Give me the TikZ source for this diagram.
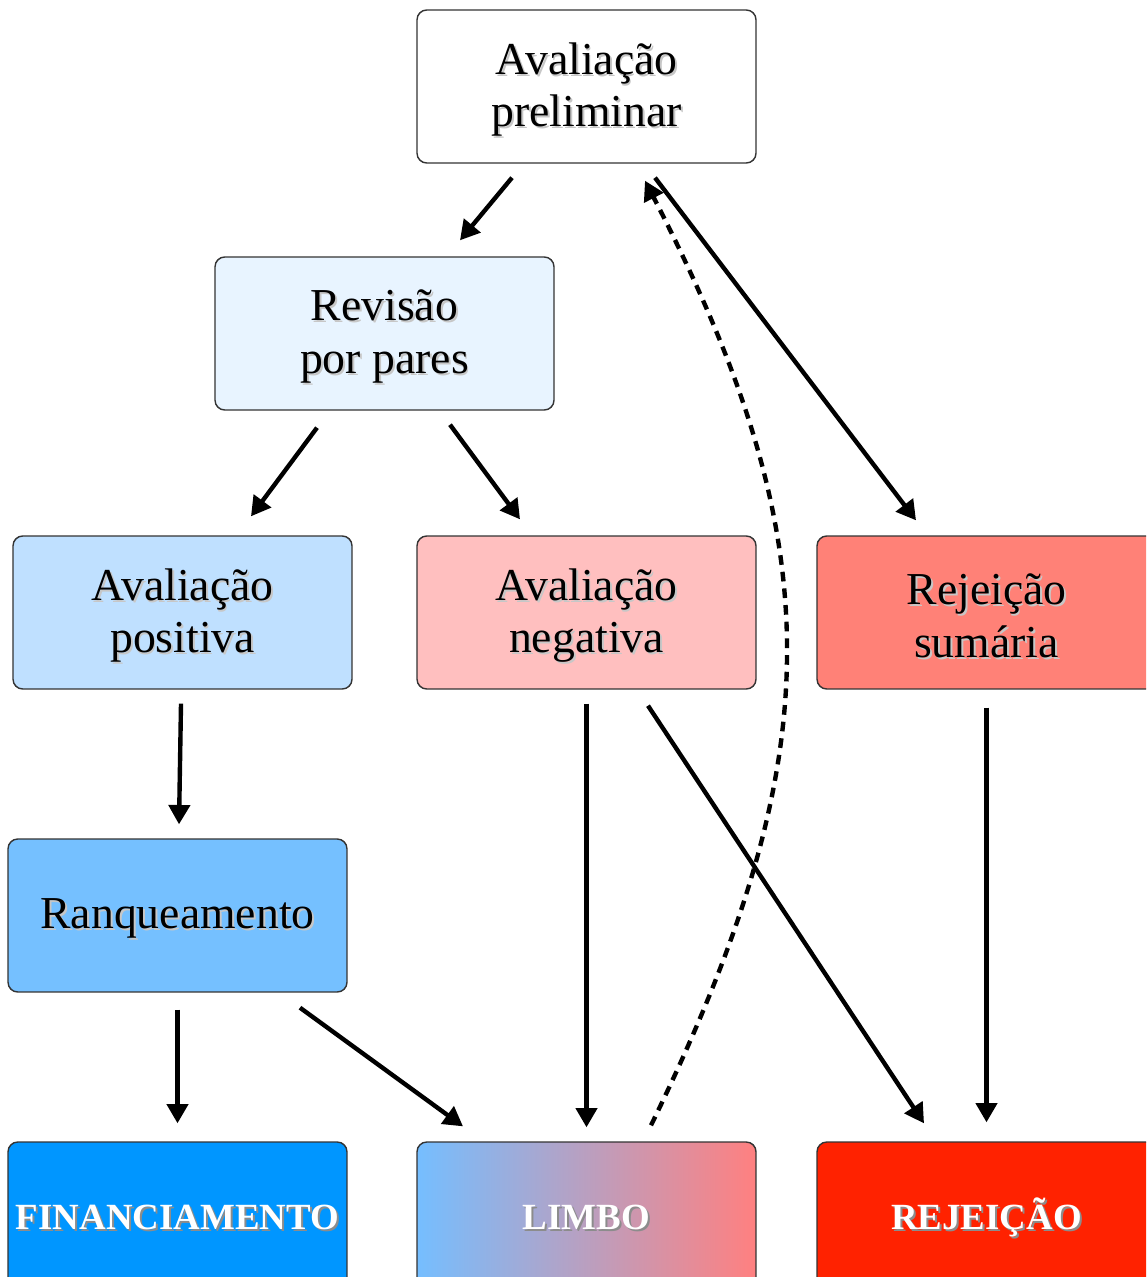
\documentclass[tikz,border=0pt]{standalone}
\usepackage{fontspec}
\setmainfont{Liberation Serif}
\usepackage{tikz}
\usetikzlibrary{arrows.meta,positioning,calc}
\definecolor{boxline}{HTML}{333333}
\definecolor{revfill}{HTML}{E8F4FF}
\definecolor{posfill}{HTML}{BFE0FF}
\definecolor{negfill}{HTML}{FFBFBF}
\definecolor{sumfill}{HTML}{FF8177}
\definecolor{rankfill}{HTML}{75C0FF}
\definecolor{fundfill}{HTML}{0096FF}
\definecolor{limboleft}{HTML}{75BEFF}
\definecolor{limboright}{HTML}{FF8080}
\definecolor{rejfill}{HTML}{FF2200}

% soft drop shadow behind a line of text
\newlength{\textdrop}
\setlength{\textdrop}{2.3pt}
\newcommand{\dropshade}[2][black!22]{%
  \raisebox{-\textdrop}[\height][\depth]{%
  \makebox[0pt][l]{\hspace{1.1pt}\raisebox{-1.1pt}{\textcolor{#1}{#2}}}#2}}

\tikzset{
  stagebox/.style={
    draw=boxline,
    line width=0.8pt,
    rounded corners=5.5pt,
    minimum width=6.78cm,
    minimum height=3.06cm,
    inner sep=0pt,
    align=center,
    font=\fontsize{26}{30}\selectfont
  },
  endbox/.style={
    stagebox,
    text=white,
    font=\fontsize{21}{24}\selectfont\bfseries\setlength{\textdrop}{0pt}
  },
  flow/.style={-{Triangle[length=11pt,width=12pt]}, line width=2.5pt},
  backflow/.style={flow, dash pattern=on 5.5pt off 4pt}
}

\begin{document}
\begin{tikzpicture}[x=0.02cm, y=-0.02cm]
  \useasboundingbox (0,0) rectangle (1146,1277);
  \clip (0,0) rectangle (1146,1277);

  % stages
  \node[stagebox, fill=white] (prelim) at (586.5,86.5) {\dropshade{Avaliação}\\\dropshade{preliminar}};
  \node[stagebox, fill=revfill] (rev) at (384.5,333.5) {\dropshade{Revisão}\\\dropshade{por pares}};
  \node[stagebox, fill=posfill] (pos) at (182.5,612.5) {\dropshade{Avaliação}\\\dropshade{positiva}};
  \node[stagebox, fill=negfill] (neg) at (586.5,612.5) {\dropshade{Avaliação}\\\dropshade{negativa}};
  \node[stagebox, fill=sumfill] (sum) at (986.5,612.5) {\dropshade{Rejeição}\\\dropshade{sumária}};
  \node[stagebox, fill=rankfill] (rank) at (177.5,915.5) {\dropshade{Ranqueamento}};

  % outcomes
  \node[endbox, fill=fundfill] (fund) at (177.5,1218.5) {\dropshade[black!45]{FINANCIAMENTO}};
  \node[endbox, left color=limboleft, right color=limboright] (limbo) at (586.5,1218.5) {\dropshade[black!45]{LIMBO}};
  \node[endbox, fill=rejfill] (rej) at (986.5,1218.5) {\dropshade[black!45]{REJEIÇÃO}};

  % connectors
  \draw[flow] ([shift={(-74.5,14)}]prelim.south) -- ([shift={(75.5,-16)}]rev.north);
  \draw[flow] ([shift={(68.5,14)}]prelim.south) -- ([shift={(-70.5,-15)}]sum.north);
  \draw[flow] ([shift={(-67.5,17)}]rev.south) -- ([shift={(68.5,-19)}]pos.north);
  \draw[flow] ([shift={(65.5,14)}]rev.south) -- ([shift={(-66.5,-16)}]neg.north);
  \draw[flow] ([shift={(-1.5,14)}]pos.south) -- ([shift={(1.5,-14)}]rank.north);
  \draw[flow] ([shift={(0,14)}]neg.south) -- ([shift={(0,-14)}]limbo.north);
  \draw[flow] ([shift={(61.5,16)}]neg.south) -- ([shift={(-62.5,-18)}]rej.north);
  \draw[flow] ([shift={(0,18)}]sum.south) -- ([shift={(0,-19)}]rej.north);
  \draw[flow] ([shift={(0,17)}]rank.south) -- ([shift={(0,-18)}]fund.north);
  \draw[flow] ([shift={(122.5,15)}]rank.south) -- ([shift={(-123.5,-15)}]limbo.north);
  \draw[backflow] ([shift={(64.5,-16)}]limbo.north)
    .. controls +(181,-371) and +(187,363) .. ([shift={(58.5,17)}]prelim.south);
\end{tikzpicture}
\end{document}
